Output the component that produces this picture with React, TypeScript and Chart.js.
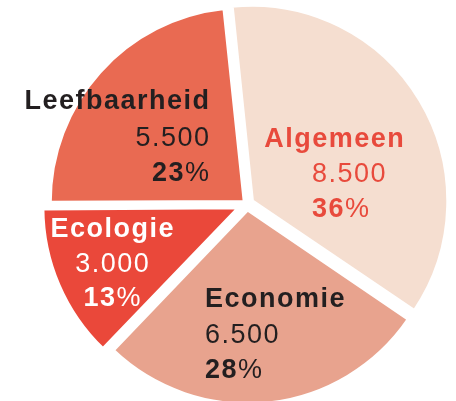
import React, { useEffect, useRef } from 'react';
import { Chart, registerables } from 'chart.js';

Chart.register(...registerables);

const categories = ['Algemeen', 'Economie', 'Ecologie', 'Leefbaarheid'];
const values = [8500, 6500, 3000, 5500];
const sliceColors = ['#f5ded0', '#e8a38e', '#ea483a', '#e96a52'];
const labelColors = ['#e84a3c', '#231f20', '#ffffff', '#231f20'];
const sliceOffsets = [23, 22, 32, 12];

type Align = 'left' | 'right' | 'center';
interface LineLayout { dx: number; dy: number; align: Align }

// label line placement relative to the pie centre (pixels)
const labelLayout: LineLayout[][] = [
  [
    { dx: 87, dy: -57, align: 'center' },
    { dx: 65, dy: -22, align: 'left' },
    { dx: 65, dy: 13, align: 'left' },
  ],
  [
    { dx: -42, dy: 103, align: 'left' },
    { dx: -42, dy: 139, align: 'left' },
    { dx: -42, dy: 174, align: 'left' },
  ],
  [
    { dx: -135, dy: 33, align: 'center' },
    { dx: -135, dy: 68, align: 'center' },
    { dx: -135, dy: 102, align: 'center' },
  ],
  [
    { dx: -38, dy: -95, align: 'right' },
    { dx: -38, dy: -58, align: 'right' },
    { dx: -38, dy: -23, align: 'right' },
  ],
];

const FONT_FAMILY = '"Liberation Sans", Arial, Helvetica, sans-serif';
const FONT_SIZE = 27;
const LETTER_SPACING = 1.5;

function formatThousands(v: number): string {
  return String(v).replace(/\B(?=(\d{3})+(?!\d))/g, '.');
}

function fontFor(bold: boolean) {
  return `${bold ? 'bold ' : ''}${FONT_SIZE}px ${FONT_FAMILY}`;
}

const labelPlugin = {
  id: 'sliceLabels',
  afterDatasetsDraw(chart: any) {
    const ctx: CanvasRenderingContext2D = chart.ctx;
    const meta = chart.getDatasetMeta(0);
    const total = values.reduce((a, b) => a + b, 0);
    meta.data.forEach((arc: any, i: number) => {
      const cx = arc.x;
      const cy = arc.y;
      const pct = Math.round((values[i] / total) * 100);
      const lines = [
        [{ text: categories[i], bold: true }],
        [{ text: formatThousands(values[i]), bold: false }],
        [
          { text: String(pct), bold: true },
          { text: '%', bold: false },
        ],
      ];
      lines.forEach((segs, li) => {
        const L = labelLayout[i][li];
        ctx.save();
        (ctx as any).letterSpacing = `${LETTER_SPACING}px`;
        ctx.fillStyle = labelColors[i];
        ctx.textBaseline = 'alphabetic';
        ctx.textAlign = 'left';
        const widths = segs.map((s) => {
          ctx.font = fontFor(s.bold);
          return ctx.measureText(s.text).width;
        });
        const totalW = widths.reduce((a, b) => a + b, 0) - LETTER_SPACING;
        let sx = cx + L.dx;
        if (L.align === 'right') sx -= totalW;
        else if (L.align === 'center') sx -= totalW / 2;
        segs.forEach((s, k) => {
          ctx.font = fontFor(s.bold);
          ctx.fillText(s.text, sx, cy + L.dy);
          sx += widths[k];
        });
        ctx.restore();
      });
    });
  },
};

export default function App() {
  const ref = useRef<HTMLCanvasElement>(null);
  useEffect(() => {
    document.body.style.margin = '0';
    const chart = new Chart(ref.current as HTMLCanvasElement, {
      type: 'pie',
      data: {
        labels: categories,
        datasets: [
          {
            data: values,
            backgroundColor: sliceColors,
            borderColor: '#ffffff',
            borderWidth: 4,
            offset: sliceOffsets,
            radius: 195,
          } as any,
        ],
      },
      options: {
        responsive: false,
        animation: false,
        devicePixelRatio: 1,
        rotation: -6,
        layout: { padding: { left: 38, top: 7, right: 0, bottom: 0 } },
        plugins: { legend: { display: false }, tooltip: { enabled: false } },
      } as any,
      plugins: [labelPlugin],
    });
    return () => chart.destroy();
  }, []);
  return (
    <div style={{ width: 456, height: 401, background: '#ffffff' }}>
      <canvas ref={ref} width={456} height={401} style={{ display: 'block' }} />
    </div>
  );
}
